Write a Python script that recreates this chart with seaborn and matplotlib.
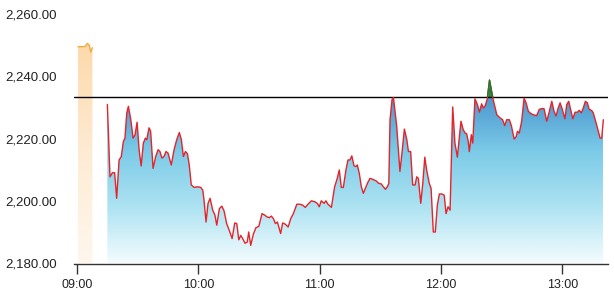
import numpy as np
import pandas as pd
import matplotlib
matplotlib.use("Agg")
import matplotlib.pyplot as plt
import seaborn as sns
from matplotlib.colors import LinearSegmentedColormap
from matplotlib.patches import Rectangle

# ---- data (minutes after 09:00) ----
pre_minutes = [0.5, 2.0, 4.0, 5.1, 6.1, 6.8, 7.6]
pre_values = [2249.5, 2249.5, 2249.6, 2250.6, 2249.9, 2247.8, 2249.2]

minutes = [
    15.0, 16.3, 17.5, 18.6, 19.6, 20.8, 21.9, 22.9, 23.7, 24.6, 25.4, 26.6, 27.7, 28.7, 29.7,
    30.7, 31.7, 32.8, 33.8, 34.5, 35.6, 36.4, 37.6, 38.9, 40.1, 41.0, 42.0, 43.0, 44.0, 45.0,
    46.6, 48.0, 49.3, 50.6, 51.6, 52.6, 53.6, 54.6, 55.5, 56.5, 57.9, 59.5, 61.2, 62.2, 62.8,
    63.8, 64.8, 65.8, 67.1, 68.2, 69.1, 70.4, 71.6, 72.7, 74.0, 75.3, 76.7, 78.0, 79.0, 80.0,
    81.0, 81.9, 83.1, 84.2, 84.9, 85.9, 87.2, 88.5, 89.9, 91.5, 92.8, 94.1, 95.1, 96.1, 97.1,
    98.1, 99.1, 99.8, 100.7, 101.7, 103.0, 104.4, 105.7, 107.0, 108.7, 110.3, 111.6, 112.9,
    114.2, 115.9, 117.6, 118.8, 119.8, 120.8, 122.2, 123.1, 124.1, 125.8, 127.4, 128.7, 129.7,
    130.7, 131.7, 133.0, 134.0, 135.0, 135.9, 137.0, 138.0, 138.6, 139.6, 140.6, 141.6, 142.6,
    143.6, 144.9, 146.2, 147.9, 149.2, 150.5, 151.5, 152.5, 153.5, 154.2, 154.8, 155.8, 156.5,
    158.1, 159.7, 160.7, 161.9, 163.1, 163.9, 165.0, 166.0, 167.2, 168.0, 168.8, 170.0, 171.0,
    172.0, 172.9, 174.2, 175.1, 176.2, 177.2, 178.2, 179.2, 180.4, 181.6, 182.5, 183.5, 184.5,
    185.8, 186.9, 188.1, 189.1, 189.9, 191.0, 192.0, 192.7, 193.5, 194.0, 195.0, 195.7, 196.8,
    198.0, 199.0, 200.1, 200.9, 201.9, 202.9, 204.0, 205.1, 206.2, 207.6, 209.2, 210.5, 211.5,
    212.5, 213.8, 214.8, 216.2, 217.2, 217.8, 218.7, 219.9, 221.1, 222.1, 223.2, 224.4, 225.7,
    227.3, 228.6, 229.8, 231.0, 232.3, 233.6, 234.8, 235.9, 236.9, 238.0, 238.9, 240.0, 241.3,
    242.2, 243.2, 244.1, 245.2, 246.3, 247.4, 248.4, 249.4, 250.4, 251.4, 252.4, 253.3, 254.5,
    255.3, 256.7, 257.8, 258.7, 259.5, 260.3,
]
values = [
    2231.0, 2207.8, 2209.1, 2209.1, 2200.9, 2213.2, 2214.3, 2219.1, 2220.2, 2228.3, 2230.4,
    2226.1, 2220.2, 2221.3, 2225.3, 2216.5, 2211.3, 2218.6, 2220.2, 2219.7, 2223.5, 2222.4,
    2210.5, 2214.3, 2216.5, 2215.9, 2213.8, 2214.3, 2215.9, 2215.4, 2211.6, 2216.5, 2219.7,
    2222.0, 2219.7, 2214.3, 2215.9, 2215.2, 2211.6, 2205.2, 2204.4, 2204.6, 2204.4, 2203.5,
    2200.3, 2193.3, 2199.3, 2200.9, 2197.1, 2195.5, 2192.3, 2197.6, 2198.4, 2196.9, 2192.8,
    2190.6, 2188.0, 2193.0, 2192.8, 2187.6, 2189.0, 2188.0, 2186.5, 2186.9, 2190.1, 2185.8,
    2189.4, 2191.5, 2191.9, 2196.0, 2195.5, 2194.9, 2194.7, 2195.2, 2194.4, 2192.8, 2193.3,
    2191.7, 2189.6, 2193.0, 2192.6, 2191.7, 2194.4, 2196.0, 2199.0, 2199.0, 2198.7, 2198.0,
    2199.0, 2200.1, 2199.8, 2199.3, 2198.2, 2200.1, 2199.3, 2200.1, 2199.0, 2198.0, 2204.6,
    2207.3, 2210.0, 2204.4, 2204.4, 2210.0, 2213.2, 2213.2, 2214.5, 2211.3, 2211.1, 2211.6,
    2208.9, 2204.6, 2202.5, 2204.1, 2205.7, 2207.3, 2207.0, 2206.5, 2205.7, 2205.5, 2204.6,
    2203.8, 2204.6, 2205.7, 2226.1, 2232.6, 2233.2, 2224.0, 2209.5, 2215.4, 2223.1, 2219.7,
    2215.9, 2215.9, 2205.2, 2205.2, 2207.8, 2207.3, 2199.3, 2205.7, 2214.1, 2210.0, 2205.7,
    2204.1, 2190.1, 2190.1, 2198.7, 2202.3, 2202.3, 2201.9, 2196.0, 2198.2, 2197.1, 2230.2,
    2218.6, 2214.1, 2220.7, 2225.6, 2222.9, 2221.8, 2221.6, 2219.1, 2215.9, 2221.3, 2218.6,
    2232.8, 2231.0, 2228.5, 2231.2, 2229.9, 2230.6, 2232.8, 2238.8, 2234.9, 2231.5, 2227.7,
    2226.7, 2226.1, 2224.2, 2226.1, 2226.1, 2224.2, 2219.9, 2220.7, 2222.4, 2221.8, 2225.6,
    2233.0, 2231.5, 2228.8, 2228.1, 2227.7, 2227.4, 2229.4, 2229.7, 2229.6, 2225.6, 2228.8,
    2232.0, 2228.8, 2227.3, 2229.9, 2231.5, 2229.4, 2226.4, 2231.0, 2232.0, 2229.4, 2226.4,
    2228.5, 2228.5, 2229.1, 2228.3, 2229.9, 2232.0, 2231.5, 2229.4, 2229.1, 2228.3, 2225.1,
    2222.4, 2220.2, 2220.2, 2226.1,
]
prev_close = 2233.4

y_ticks = [2180, 2200, 2220, 2240, 2260]
y_tick_labels = ["2,180.00", "2,200.00", "2,220.00", "2,240.00", "2,260.00"]
x_ticks = [0, 60, 120, 180, 240]
x_tick_labels = ["09:00", "10:00", "11:00", "12:00", "13:00"]

# ---- styling ----
sns.set_theme(style="ticks")
plt.rcParams['font.family'] = ['Liberation Sans', 'DejaVu Sans']

W, H = 614, 304
fig = plt.figure(figsize=(W / 100, H / 100), dpi=100)
ax = fig.add_axes([74 / W, 1 - 263.5 / H, (608 - 74) / W, (263.5 - 14) / H])

df = pd.DataFrame({"minute": minutes, "value": values})
pre_df = pd.DataFrame({"minute": pre_minutes, "value": pre_values})
ymin, ymax = 2180, 2260
xmin, xmax = -1.5, 262.6

grad = np.linspace(0, 1, 256).reshape(-1, 1)

# pre-market orange gradient area
orange_cmap = LinearSegmentedColormap.from_list("o", ["#fff7ee", "#feebd4", "#fdd9aa"])
opoly = ax.fill_between(pre_df.minute, ymin, pre_df.value, color="none", lw=0)
oim = ax.imshow(grad, cmap=orange_cmap, aspect="auto", origin="lower",
                extent=[pre_minutes[0], pre_minutes[-1], ymin, max(pre_values)], zorder=1)
oim.set_clip_path(opoly.get_paths()[0], ax.transData)
sns.lineplot(data=pre_df, x="minute", y="value", color="#f5a93a", lw=1.0, ax=ax, zorder=3)

# main blue gradient area (capped at previous close)
blue_cmap = LinearSegmentedColormap.from_list("b", ["#f4fcfe", "#aee3f2", "#7ccbe8", "#4b97cf"])
bpoly = ax.fill_between(df.minute, ymin, df.value, color="none", lw=0)
bim = ax.imshow(grad, cmap=blue_cmap, aspect="auto", origin="lower",
                extent=[minutes[0], minutes[-1], ymin, prev_close], zorder=1)
bim.set_clip_path(bpoly.get_paths()[0], ax.transData)

# green area above previous close
v = np.array(values)
ax.fill_between(df.minute, prev_close, v, where=v > prev_close, interpolate=True,
                color="#23893d", lw=0, zorder=2)

# reference line
ax.axhline(prev_close, color="black", lw=1.0, zorder=2.5)

# price line (red), green where above previous close
sns.lineplot(data=df, x="minute", y="value", color="#e3242b", lw=1.0, ax=ax, zorder=3)
sns.lineplot(data=df, x="minute", y="value", color="#1d7a33", lw=1.0, ax=ax, zorder=4)
clip_rect = Rectangle((xmin, prev_close), xmax - xmin, ymax - prev_close,
                      transform=ax.transData, facecolor="none", edgecolor="none")
ax.add_patch(clip_rect)
ax.get_lines()[-1].set_clip_path(clip_rect)

ax.set_xlim(xmin, xmax)
ax.set_ylim(ymin, ymax)
ax.set_xticks(x_ticks)
ax.set_xticklabels(x_tick_labels)
ax.set_yticks(y_ticks)
ax.set_yticklabels(y_tick_labels)
ax.set_xlabel("")
ax.set_ylabel("")
for s in ["top", "right", "left"]:
    ax.spines[s].set_visible(False)
ax.spines["bottom"].set_color("#333333")
ax.spines["bottom"].set_linewidth(1.0)
ax.tick_params(axis="x", bottom=True, length=7, width=1, color="#333333",
               direction="out", pad=4, labelsize=9, labelcolor="#222222")
ax.tick_params(axis="y", left=False, length=0, pad=12.5, labelsize=9.5, labelcolor="#222222")
ax.grid(False)

fig.savefig("out.png", dpi=100)
